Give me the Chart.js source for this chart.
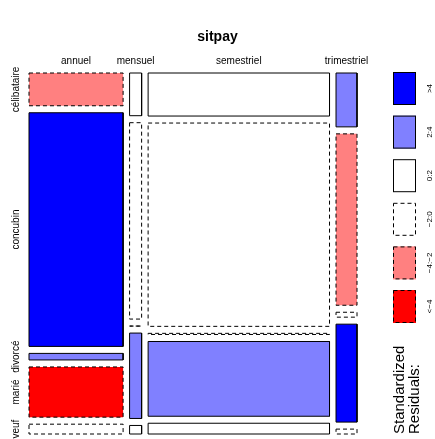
<!DOCTYPE html>
<html>
<head>
<meta charset="utf-8">
<script src="https://cdn.jsdelivr.net/npm/chart.js@4/dist/chart.umd.min.js"></script>
<style>
html, body { margin: 0; padding: 0; background: #fff; }
</style>
</head>
<body>
<canvas id="mosaic" width="435" height="439"></canvas>
<script>
// ============== DATA ==============
const sitpay = ['annuel', 'mensuel', 'semestriel', 'trimestriel'];
const sitfam = ['célibataire', 'concubin', 'divorcé', 'marié', 'veuf'];

// counts per payment column, rows in sitfam order
const annuel = [30, 214, 6, 46, 9];
const mensuel = [5, 23, 0, 10, 1];
const semestriel = [76, 359, 2, 132, 19];
const trimestriel = [11, 35, 1, 20, 1];

// standardized residuals (read from the shading)
const resAnnuel = [-3.1, 6.2, 2.4, -5.8, -1.2];
const resMensuel = [0.8, -1.1, -0.6, 2.6, 0.3];
const resSemestriel = [1.2, -1.5, -1.4, 3.1, 0.9];
const resTrimestriel = [2.7, -3.2, -0.4, 4.6, -0.8];

const legendLabels = ['>4', '2:4', '0:2', '\u22122:0', '\u22124:\u22122', '<\u22124'];

// ============== LAYOUT ==============
const counts = [annuel, mensuel, semestriel, trimestriel];
const residuals = [resAnnuel, resMensuel, resSemestriel, resTrimestriel];
const gapX = 0.0198;
const gapY = 0.0194;

function shade(r) {
    if (r > 4) return '#0000FF';
    if (r > 2) return '#8080FF';
    if (r > -2) return '#FFFFFF';
    if (r > -4) return '#FF8080';
    return '#FF0000';
}

const sum = arr => arr.reduce((a, b) => a + b, 0);
const total = sum(counts.map(sum));

const datasets = [];
const colCenters = [];
const rowCenters = [];
let x0 = 0;
counts.forEach((col, i) => {
    const colTotal = sum(col);
    const w = colTotal / total * (1 - gapX * (counts.length - 1));
    let y0 = 0;
    col.forEach((n, j) => {
        const h = n / colTotal * (1 - gapY * (col.length - 1));
        const r = residuals[i][j];
        datasets.push({
            label: sitpay[i] + ' / ' + sitfam[j],
            data: [
                { x: x0, y: y0 }, { x: x0 + w, y: y0 },
                { x: x0 + w, y: y0 + h }, { x: x0, y: y0 + h },
                { x: x0, y: y0 }
            ],
            borderColor: '#000',
            borderWidth: 1,
            borderDash: r < 0 ? [4, 3] : [],
            backgroundColor: shade(r),
            fill: 'shape',
            pointRadius: 0,
            tension: 0,
            clip: false
        });
        if (i === 0) rowCenters.push(y0 + h / 2);
        y0 += h + gapY;
    });
    colCenters.push(x0 + w / 2);
    x0 += w + gapX;
});

// ============== LABELS & LEGEND ==============
const mosaicLabels = {
    id: 'mosaicLabels',
    afterDraw(chart) {
        const { ctx, scales: { x, y } } = chart;
        ctx.save();
        ctx.fillStyle = '#000';

        // title
        ctx.font = 'bold 14px "Liberation Sans", Arial, sans-serif';
        ctx.textAlign = 'center';
        ctx.textBaseline = 'middle';
        ctx.fillText('sitpay', 217.5, 37);

        // column labels
        ctx.font = '10px "Liberation Sans", Arial, sans-serif';
        colCenters.forEach((c, i) => {
            ctx.fillText(sitpay[i], x.getPixelForValue(c), 61);
        });

        // row labels (rotated)
        rowCenters.forEach((c, j) => {
            ctx.save();
            ctx.translate(16, y.getPixelForValue(c));
            ctx.rotate(-Math.PI / 2);
            ctx.fillText(sitfam[j], 0, 0);
            ctx.restore();
        });

        // legend boxes
        const legendRes = [5, 3, 1, -1, -3, -5];
        legendRes.forEach((r, k) => {
            const top = 72 + k * 43.6;
            ctx.fillStyle = shade(r);
            ctx.fillRect(393, top, 23, 33);
            ctx.strokeStyle = '#000';
            ctx.lineWidth = 1;
            ctx.setLineDash(r < 0 ? [4, 3] : []);
            ctx.strokeRect(393.5, top + 0.5, 22, 32);
            ctx.setLineDash([]);
            ctx.fillStyle = '#000';
            ctx.save();
            ctx.translate(430, top + 16.5);
            ctx.rotate(-Math.PI / 2);
            ctx.font = '8px "Liberation Sans", Arial, sans-serif';
            ctx.fillText(legendLabels[k], 0, 0);
            ctx.restore();
        });

        // legend title
        ctx.save();
        ctx.translate(400, 434);
        ctx.rotate(-Math.PI / 2);
        ctx.font = '15px "Liberation Sans", Arial, sans-serif';
        ctx.textAlign = 'left';
        ctx.fillText('Standardized', 0, 0);
        ctx.fillText('Residuals:', 0, 15);
        ctx.restore();

        ctx.restore();
    }
};

new Chart(document.getElementById('mosaic'), {
    type: 'line',
    data: { datasets },
    options: {
        responsive: false,
        devicePixelRatio: 1,
        animation: false,
        layout: { padding: { left: 29, right: 78, top: 73, bottom: 5 } },
        scales: {
            x: { type: 'linear', min: 0, max: 1, display: false },
            y: { type: 'linear', min: 0, max: 1, reverse: true, display: false }
        },
        plugins: {
            legend: { display: false },
            tooltip: { enabled: false }
        }
    },
    plugins: [mosaicLabels]
});
</script>
</body>
</html>
